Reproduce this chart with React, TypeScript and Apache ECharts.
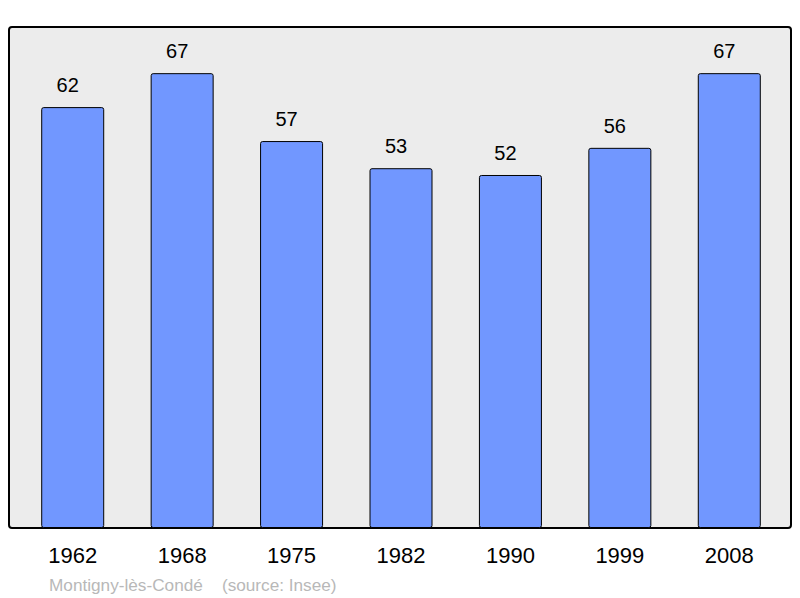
import React, { useEffect, useRef } from "react";
import * as echarts from "echarts";

const years = ["1962", "1968", "1975", "1982", "1990", "1999", "2008"];
const population = [62, 67, 57, 53, 52, 56, 67];
const footer = "Montigny-lès-Condé    (source: Insee)";

export default function App() {
  const ref = useRef<HTMLDivElement>(null);
  useEffect(() => {
    if (!ref.current) return;
    const chart = echarts.init(ref.current, null, { renderer: "svg" });
    chart.setOption({
      animation: false,
      grid: { left: 18, right: 16, top: 27, bottom: 70 },
      graphic: [
        {
          type: "rect",
          z: -10,
          shape: { x: 9, y: 27, width: 782, height: 501, r: 3 },
          style: { fill: "#ececec", stroke: "#000", lineWidth: 2 },
        },
        {
          type: "text",
          left: 49,
          top: 576,
          style: {
            text: footer,
            fill: "#b8b8b8",
            fontSize: 17.2,
            fontFamily: "Liberation Sans, Arial, sans-serif",
          },
        },
      ],
      xAxis: {
        type: "category",
        data: years,
        axisLine: { show: false },
        axisTick: { show: false },
        axisLabel: {
          color: "#000",
          fontSize: 22,
          margin: 16,
          fontFamily: "Liberation Sans, Arial, sans-serif",
        },
      },
      yAxis: {
        type: "value",
        min: 0,
        max: 73.8,
        show: false,
        splitLine: { show: false },
      },
      series: [
        {
          type: "bar",
          data: population,
          barWidth: 63,
          itemStyle: {
            color: "#7197ff",
            borderColor: "#000",
            borderWidth: 1,
            borderRadius: 2,
          },
          label: {
            show: true,
            position: "top",
            distance: 12,
            offset: [-5, 0],
            color: "#000",
            fontSize: 20,
            fontFamily: "Liberation Sans, Arial, sans-serif",
          },
        },
      ],
    });
    return () => chart.dispose();
  }, []);
  return <div ref={ref} style={{ width: 800, height: 598, position: "absolute", left: 0, top: 0 }} />;
}
